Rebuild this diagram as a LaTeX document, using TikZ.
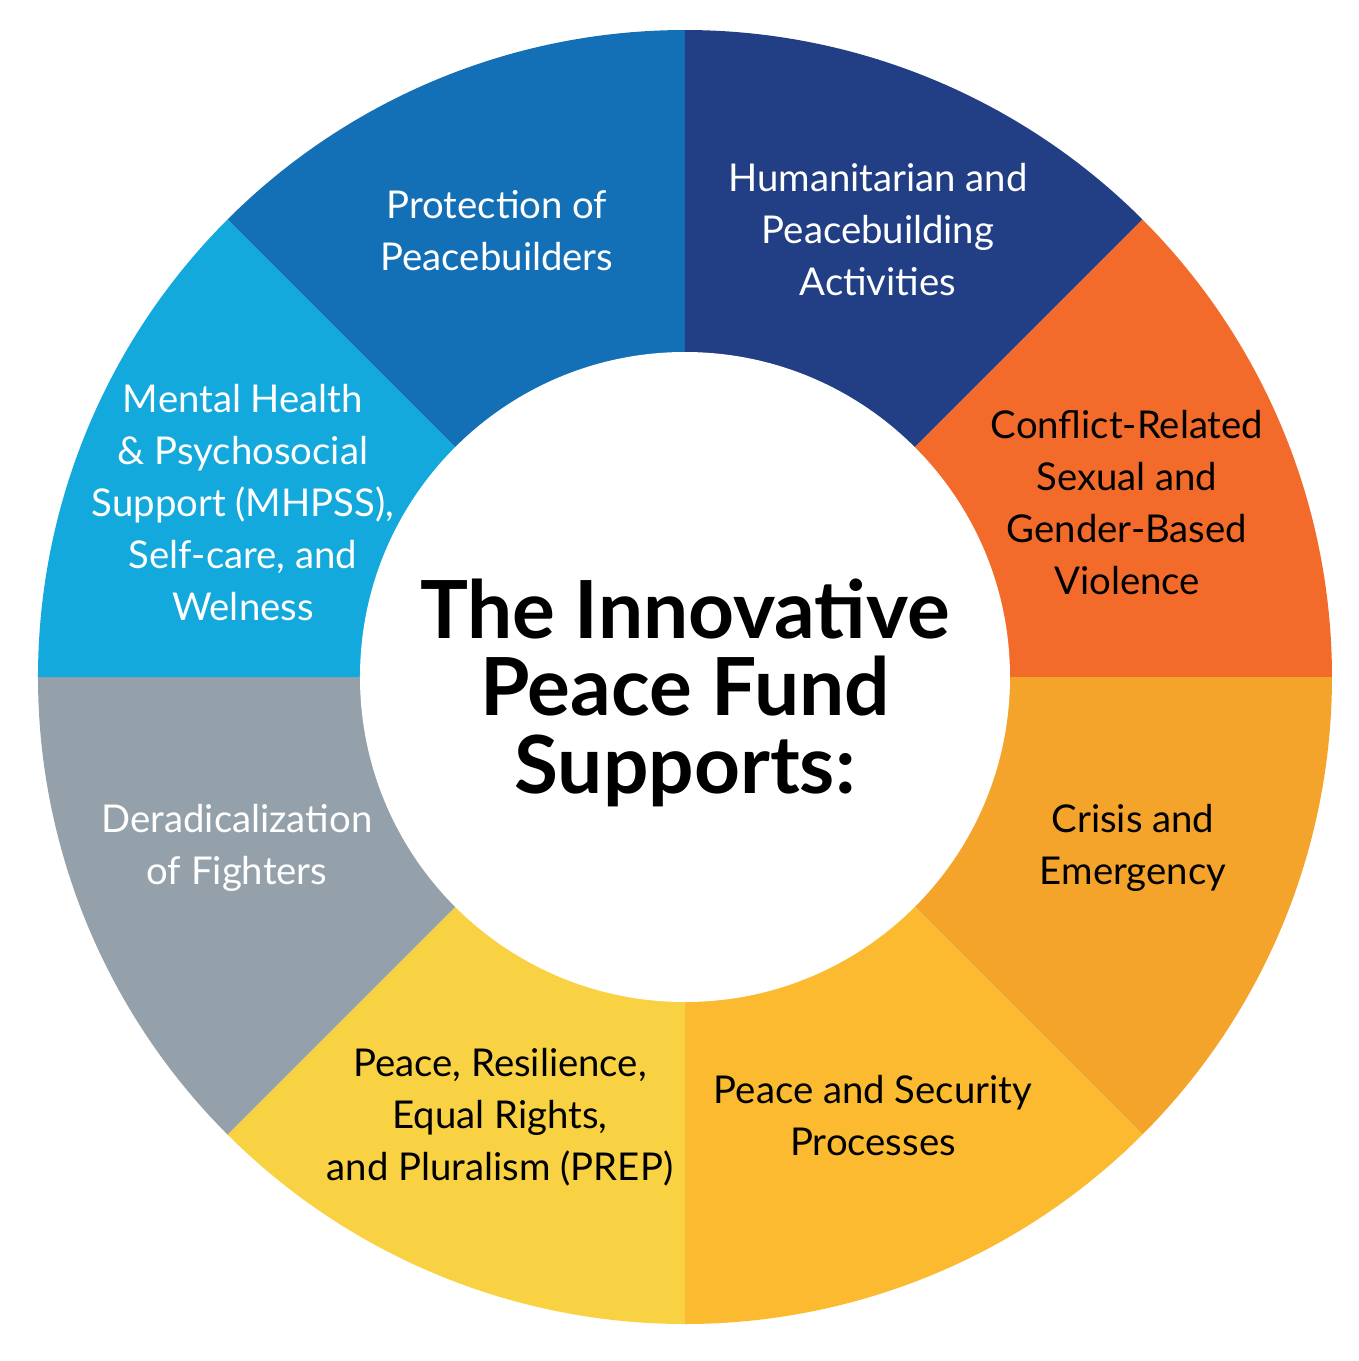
\documentclass[tikz,border=0pt]{standalone}
\usepackage{fontspec}
\setmainfont{Lato}
\usepackage{tikz}
\definecolor{protblue}{RGB}{19,112,182}
\definecolor{humblue}{RGB}{34,63,133}
\definecolor{crsvorange}{RGB}{242,107,42}
\definecolor{crisisorange}{RGB}{245,164,43}
\definecolor{secyellow}{RGB}{251,186,47}
\definecolor{prepyellow}{RGB}{249,210,67}
\definecolor{deradgray}{RGB}{149,161,170}
\definecolor{mhpssblue}{RGB}{19,169,220}
\tikzset{
  seglabel/.style={align=center,font=\fontsize{10.9}{14.8}\selectfont,inner sep=0pt},
  whitelabel/.style={seglabel,text=white},
  darklabel/.style={seglabel,text=black},
  titleline/.style={anchor=base,inner sep=0pt,font=\fontsize{22.8}{24}\bfseries\selectfont},
}
\begin{document}
\begin{tikzpicture}
\useasboundingbox (-6.85,-6.84) rectangle (6.74,6.77);
\coordinate (O) at (0,0);
\fill [protblue] (O) -- (90:6.47) arc (90:135:6.47) -- cycle;
\fill [humblue] (O) -- (45:6.47) arc (45:90:6.47) -- cycle;
\fill [crsvorange] (O) -- (0:6.47) arc (0:45:6.47) -- cycle;
\fill [crisisorange] (O) -- (-45:6.47) arc (-45:0:6.47) -- cycle;
\fill [secyellow] (O) -- (-90:6.47) arc (-90:-45:6.47) -- cycle;
\fill [prepyellow] (O) -- (-135:6.47) arc (-135:-90:6.47) -- cycle;
\fill [deradgray] (O) -- (180:6.47) arc (180:225:6.47) -- cycle;
\fill [mhpssblue] (O) -- (135:6.47) arc (135:180:6.47) -- cycle;
\fill [white] (O) circle (3.25);
\node [titleline] (title1) at (0,0.39) {The Innovative};
\node [titleline] (title2) at (0,-0.38) {Peace Fund};
\node [titleline] (title3) at (0,-1.16) {Supports:};
\node [whitelabel] (protect) at (-1.88,4.46) {Protection of\\Peacebuilders};
\node [whitelabel] (human) at (1.93,4.47) {Humanitarian and\\Peacebuilding\\Activities};
\node [darklabel] (crsv) at (4.42,1.745) {Conflict-Related\\Sexual and\\Gender-Based\\Violence};
\node [darklabel] (crisis) at (4.48,-1.71) {Crisis and\\Emergency};
\node [darklabel] (security) at (1.88,-4.39) {Peace and Security\\Processes};
\node [darklabel] (prep) at (-1.85,-4.40) {Peace, Resilience,\\Equal Rights,\\and Pluralism (PREP)};
\node [whitelabel] (derad) at (-4.48,-1.71) {Deradicalization\\of Fighters};
\node [whitelabel] (mhpss) at (-4.42,1.74) {Mental Health\\\& Psychosocial\\Support (MHPSS),\\Self-care, and\\Welness};
\end{tikzpicture}
\end{document}
